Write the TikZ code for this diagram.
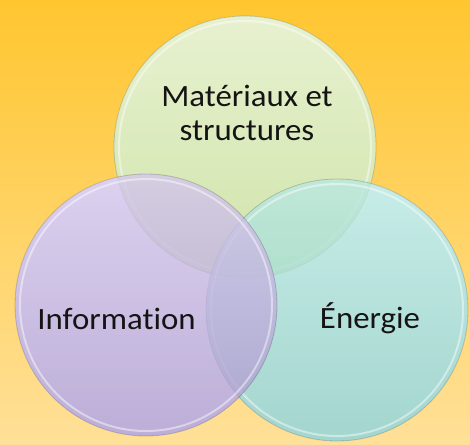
\documentclass[tikz,border=0pt]{standalone}
\usepackage{fontspec}
\setmainfont{Carlito}[Ligatures=NoCommon,FakeStretch=1.06]
\definecolor{fondhaut}{RGB}{255,198,48}
\definecolor{fondbas}{RGB}{255,224,152}
\definecolor{vertH}{RGB}{226,238,196}
\definecolor{vertB}{RGB}{196,222,150}
\definecolor{violetH}{RGB}{212,198,236}
\definecolor{violetB}{RGB}{172,154,206}
\definecolor{turqH}{RGB}{186,232,226}
\definecolor{turqB}{RGB}{140,204,194}

\begin{document}
\begin{tikzpicture}[x=1pt,y=-1pt,
	rond/.style={circle,minimum size=262pt,inner sep=0pt,shade,fill opacity=0.8,
		draw=black,draw opacity=0.18,line width=0.8pt},
	reflet/.style={draw=white,opacity=0.45,line width=2pt},
	titre/.style={font=\fontsize{31}{34}\selectfont,align=center,text=black!92}]
	\useasboundingbox (0,0) rectangle (470,444);
	\shade[top color=fondhaut,bottom color=fondbas] (0,0) rectangle (470,444);
	% fond blanc sous les cercles
	\foreach \c in {(245,147),(337,310),(146,305)}
		\fill[white] \c circle (131pt);
	% les trois cercles
	\node[rond,top color=vertH,bottom color=vertB] (mat) at (245,147) {};
	\draw[reflet] (mat.center) circle (126pt);
	\node[rond,top color=turqH,bottom color=turqB] (ener) at (337,310) {};
	\draw[reflet] (ener.center) circle (126pt);
	\node[rond,top color=violetH,bottom color=violetB] (info) at (146,305) {};
	\draw[reflet] (info.center) circle (126pt);
	% les titres
	\node[titre] (tmat) at (247,113) {Matériaux et\\structures};
	\node[titre,anchor=base] (tinfo) at (116.5,329) {Information};
	\node[titre,anchor=base] (tener) at (370,328) {Énergie};
\end{tikzpicture}
\end{document}
